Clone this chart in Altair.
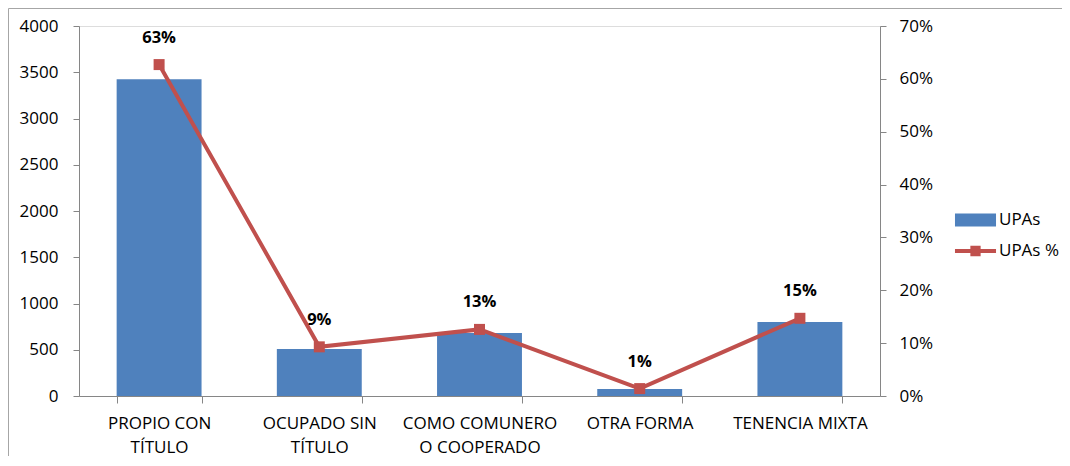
import altair as alt
import pandas as pd

# ---- data ----
categories = ["PROPIO CON\nTÍTULO", "OCUPADO SIN\nTÍTULO", "COMO COMUNERO\nO COOPERADO",
              "OTRA FORMA", "TENENCIA  MIXTA"]
upas = [3425, 508, 681, 76, 800]
upas_pct = [0.627, 0.093, 0.126, 0.014, 0.147]
series_names = ["UPAs", "UPAs %"]
left_ticks = [0, 500, 1000, 1500, 2000, 2500, 3000, 3500, 4000]
right_ticks = [0, 0.1, 0.2, 0.3, 0.4, 0.5, 0.6, 0.7]

BLUE = "#4F81BD"
RED = "#C0504D"
GRAY = "#868686"
FONT = "Open Sans"
FS = 17

df = pd.DataFrame({"cat": categories, "upas": upas, "pct": upas_pct})

W, H = 801, 370

xenc = alt.X(
    "cat:N", sort=categories, title=None,
    scale=alt.Scale(paddingInner=0.47, paddingOuter=0.235),
    axis=alt.Axis(labelAngle=0, labelExpr="split(datum.label, '\\n')",
                  labelLineHeight=24, labelPadding=12, tickBand="extent",
                  tickSize=7, labelFontSize=FS, labelColor="#000000",
                  domainColor=GRAY, tickColor=GRAY, labelFont=FONT),
)

frame = alt.Chart(alt.Data(values=[{}])).mark_rect(
    fill="transparent", stroke="#A6A6A6", strokeWidth=1
).encode(x=alt.value(-70.5), x2=alt.value(1200), y=alt.value(-17.5), y2=alt.value(600))

bars = alt.Chart(df).mark_bar(color=BLUE).encode(
    x=xenc,
    y=alt.Y("upas:Q", title=None,
            scale=alt.Scale(domain=[0, 4000], nice=False),
            axis=alt.Axis(orient="left", values=left_ticks, format="d", grid=False,
                          tickSize=6, labelPadding=15, labelFontSize=FS,
                          labelColor="#000000", domainColor=GRAY, tickColor=GRAY,
                          labelFont=FONT)),
)

ypct = alt.Y("pct:Q", title=None,
             scale=alt.Scale(domain=[0, 0.7], nice=False),
             axis=alt.Axis(orient="right", values=right_ticks, format=".0%", grid=False,
                           tickSize=6, labelPadding=13, labelFontSize=FS,
                           labelColor="#000000", domainColor=GRAY, tickColor=GRAY,
                           labelFont=FONT))

line = alt.Chart(df).mark_line(color=RED, strokeWidth=4).encode(x=xenc, y=ypct)
pts = alt.Chart(df).mark_point(shape="square", filled=True, size=121, color=RED,
                               opacity=1).encode(x=xenc, y=ypct)
labels = alt.Chart(df).mark_text(fontWeight="bold", fontSize=16.5, font=FONT, dy=-27,
                                 color="#000000").encode(
    x=xenc, y=ypct, text=alt.Text("pct:Q", format=".0%"))

right_layer = alt.layer(line, pts, labels)

path_bar = "M-1.52,-0.48H1.52V0.48H-1.52Z"
path_line = "M-1.52,-0.14H1.52V0.14H-1.52Z M-0.38,-0.38H0.38V0.38H-0.38Z"

leg = alt.Legend(title=None, orient="none", legendX=883, legendY=180.5,
                 symbolSize=729, symbolStrokeWidth=0, labelOffset=10, rowPadding=9,
                 labelFontSize=FS, labelFont=FONT, labelColor="#000000", padding=0)

legend_layer = alt.Chart(pd.DataFrame({"series": series_names})).transform_filter(
    "false").mark_point(filled=True, opacity=1).encode(
    color=alt.Color("series:N", scale=alt.Scale(domain=series_names, range=[BLUE, RED]),
                    legend=leg),
    shape=alt.Shape("series:N", scale=alt.Scale(domain=series_names,
                                                range=[path_bar, path_line]),
                    legend=leg),
)

chart = alt.layer(frame, bars, right_layer, legend_layer).resolve_scale(
    y="independent"
).properties(
    width=W, height=H,
    autosize=alt.AutoSizeParams(type="none"),
    padding={"left": 71, "top": 18, "right": 182, "bottom": 60},
).configure_view(strokeOpacity=0).configure(background="white")

chart.save("out.html", embed_options={"renderer": "svg", "actions": False})
